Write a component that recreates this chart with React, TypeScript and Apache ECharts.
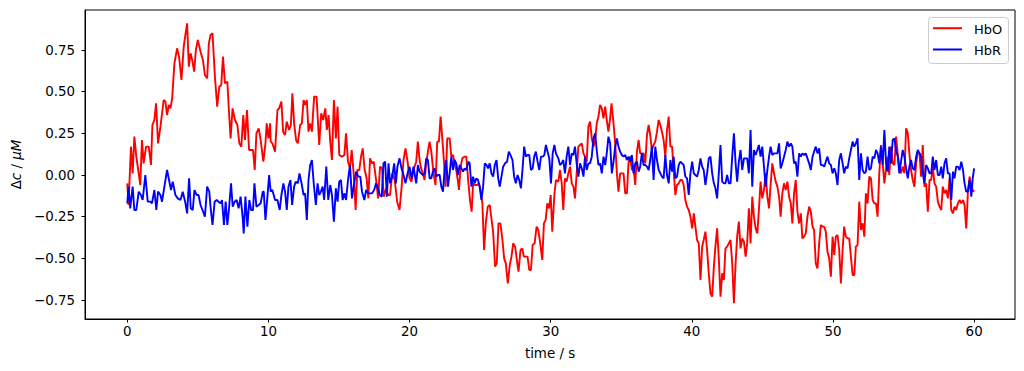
import React, { useEffect, useRef } from "react";
import * as echarts from "echarts";

// time (s), Δc (μM)
const hboData: [number, number][] = [
  [0, -0.05], [0.09, -0.18], [0.26, 0.17], [0.38, 0.01], [0.5, 0.23], [0.64, 0.11], [0.81, 0.01], [0.92, -0.06], [1.04, 0.21], [1.16, 0.07],
  [1.33, 0.17], [1.52, 0.17], [1.68, 0.06], [1.78, 0.3], [1.92, 0.33], [2.04, 0.43], [2.18, 0.19], [2.35, 0.29], [2.58, 0.45], [2.7, 0.44],
  [2.82, 0.36], [2.94, 0.42], [3.06, 0.4], [3.18, 0.46], [3.34, 0.67], [3.53, 0.76], [3.67, 0.71], [3.84, 0.57], [4.0, 0.77], [4.15, 0.86],
  [4.24, 0.91], [4.36, 0.65], [4.48, 0.73], [4.6, 0.69], [4.74, 0.62], [4.86, 0.75], [5.0, 0.81], [5.19, 0.74], [5.36, 0.69], [5.5, 0.6],
  [5.66, 0.58], [5.78, 0.79], [5.9, 0.84], [6.04, 0.85], [6.21, 0.59], [6.37, 0.41], [6.52, 0.53], [6.66, 0.54], [6.78, 0.71], [6.92, 0.55],
  [7.09, 0.56], [7.2, 0.39], [7.32, 0.22], [7.46, 0.4], [7.63, 0.33], [7.8, 0.3], [7.94, 0.19], [8.08, 0.17], [8.22, 0.36], [8.34, 0.21],
  [8.48, 0.39], [8.63, 0.15], [8.77, 0.15], [8.91, 0.15], [9.03, 0.03], [9.15, 0.25], [9.31, 0.28], [9.45, 0.21], [9.64, 0.08], [9.79, 0.19],
  [9.88, 0.31], [10.0, 0.22], [10.12, 0.31],
  [10.16, 0.2], [10.28, 0.19], [10.47, 0.14], [10.64, 0.39], [10.76, 0.4], [10.92, 0.44], [11.04, 0.26], [11.18, 0.24], [11.3, 0.32], [11.47, 0.27],
  [11.59, 0.3], [11.7, 0.49], [11.82, 0.31], [11.96, 0.21], [12.08, 0.19], [12.25, 0.3], [12.37, 0.31], [12.49, 0.45], [12.6, 0.42], [12.72, 0.45],
  [12.84, 0.26], [12.96, 0.31], [13.08, 0.26], [13.24, 0.47], [13.41, 0.47], [13.6, 0.18], [13.74, 0.37], [13.88, 0.33], [14.03, 0.4], [14.14, 0.27],
  [14.26, 0.36], [14.38, 0.2], [14.5, 0.09], [14.64, 0.45], [14.78, 0.22], [14.9, 0.41], [15.02, 0.12], [15.21, 0.11], [15.38, 0.12], [15.5, 0.25],
  [15.64, 0.08], [15.78, 0.04], [15.9, 0.15], [16.04, 0.01], [16.18, -0.21], [16.3, 0.03], [16.44, 0.03], [16.56, 0.11], [16.68, 0.16], [16.82, 0.03],
  [16.96, -0.02], [17.08, -0.14], [17.2, 0.1], [17.34, 0.07], [17.46, 0.08], [17.63, -0.03], [17.77, -0.14], [17.91, 0.05], [18.05, 0.04], [18.17, -0.13],
  [18.34, -0.08], [18.48, -0.12], [18.62, -0.12], [18.77, 0.01], [18.95, -0.03], [19.12, -0.16], [19.29, -0.21], [19.43, -0.08], [19.57, 0.09], [19.71, 0.16],
  [19.86, 0.08], [20.0, -0.02], [20.14, -0.04], [20.28, 0.03],
  [20.47, 0.08], [20.59, 0.2], [20.71, 0.09], [20.82, 0.04], [20.94, 0.01], [21.06, -0.03], [21.18, 0.07], [21.3, 0.14], [21.42, 0.2], [21.54, 0.14],
  [21.7, 0.01], [21.84, -0.06], [21.96, 0.2], [22.08, 0.2], [22.2, 0.35], [22.32, 0.22], [22.44, 0.08], [22.55, -0.07], [22.67, 0.22], [22.84, 0.22],
  [22.96, 0.11], [23.08, 0.12], [23.19, 0.07], [23.31, 0.03], [23.43, -0.04], [23.5, -0.09], [23.62, 0.05], [23.74, 0.1], [23.88, 0.11], [24.02, 0.11],
  [24.17, -0.05], [24.28, -0.15], [24.4, -0.22], [24.5, -0.05], [24.64, -0.06], [24.78, -0.06], [24.92, -0.05], [25.02, -0.09], [25.16, -0.17], [25.28, -0.45],
  [25.4, -0.29], [25.54, -0.19], [25.68, -0.18], [25.8, -0.26], [25.92, -0.34], [26.06, -0.55], [26.18, -0.53], [26.3, -0.29], [26.44, -0.29], [26.58, -0.39],
  [26.7, -0.5], [26.82, -0.53], [26.96, -0.65], [27.1, -0.54], [27.22, -0.49], [27.34, -0.41], [27.48, -0.43], [27.6, -0.51], [27.72, -0.58], [27.86, -0.45],
  [27.98, -0.44], [28.1, -0.49], [28.24, -0.49], [28.36, -0.49], [28.48, -0.57], [28.6, -0.57], [28.72, -0.42], [28.86, -0.41], [29.0, -0.31], [29.12, -0.33],
  [29.26, -0.41], [29.4, -0.51], [29.52, -0.29], [29.64, -0.27], [29.76, -0.17], [29.88, -0.2], [30.0, -0.12], [30.11, -0.34], [30.26, -0.12], [30.37, -0.03],
  [30.54, -0.04], [30.66, 0.03], [30.78, -0.05], [30.89, -0.21], [31.01, -0.02], [31.13, -0.04], [31.25, 0.01], [31.37, 0.05], [31.49, -0.05], [31.61, -0.07],
  [31.72, -0.14], [31.84, 0.01], [31.96, 0.17], [32.08, 0.18], [32.2, 0.19], [32.32, 0.13], [32.43, 0.11], [32.55, 0.08], [32.67, 0.29], [32.79, 0.32],
  [32.91, 0.22], [33.03, 0.17], [33.15, 0.21], [33.26, 0.31], [33.38, 0.35], [33.5, 0.42], [33.62, 0.4], [33.74, 0.34], [33.86, 0.41], [33.97, 0.33],
  [34.09, 0.26], [34.21, 0.34], [34.31, 0.43], [34.45, 0.31], [34.57, 0.19], [34.69, 0.01], [34.8, -0.1], [34.92, 0.01], [35.04, 0.01], [35.16, 0.01],
  [35.28, -0.11], [35.4, -0.11], [35.51, 0.07], [35.63, 0.11], [35.75, 0.03], [35.87, 0.04], [35.99, -0.06], [36.11, 0.14], [36.23, 0.21], [36.34, 0.13],
  [36.46, 0.13], [36.58, 0.13], [36.7, 0.07], [36.82, 0.24], [36.94, 0.3], [37.05, 0.24], [37.17, 0.15], [37.29, 0.18], [37.41, 0.2], [37.53, 0.26],
  [37.65, 0.33], [37.77, 0.3], [37.88, 0.26], [38.0, 0.21], [38.12, 0.11], [38.24, 0.27], [38.36, 0.35], [38.48, 0.17], [38.6, 0.17], [38.71, 0.03],
  [38.83, -0.12], [38.95, -0.06], [39.07, -0.05], [39.19, -0.03], [39.31, -0.03], [39.42, -0.06], [39.54, -0.15], [39.66, -0.19], [39.78, -0.21], [39.9, -0.25],
  [40.02, -0.32], [40.14, -0.23], [40.25, -0.31], [40.37, -0.39],
  [40.49, -0.41], [40.61, -0.63], [40.73, -0.43], [40.84, -0.39], [40.96, -0.34], [41.08, -0.45], [41.2, -0.59], [41.32, -0.71], [41.44, -0.73], [41.56, -0.55],
  [41.67, -0.43], [41.79, -0.32], [41.91, -0.5], [42.03, -0.73], [42.15, -0.59], [42.27, -0.63], [42.38, -0.44], [42.5, -0.43], [42.62, -0.41], [42.74, -0.39],
  [42.86, -0.53], [42.98, -0.77], [43.1, -0.53], [43.21, -0.37], [43.33, -0.28], [43.45, -0.44], [43.57, -0.38], [43.69, -0.4], [43.81, -0.49], [43.92, -0.41],
  [44.04, -0.2], [44.16, -0.41], [44.28, -0.13], [44.4, -0.25], [44.52, -0.32], [44.64, -0.35], [44.75, -0.21], [44.87, -0.04], [44.99, -0.14], [45.11, -0.09],
  [45.23, 0.01], [45.35, -0.13], [45.47, -0.2], [45.58, -0.06], [45.7, 0.07], [45.82, 0.01], [45.94, -0.04], [46.06, -0.07], [46.18, -0.13], [46.29, -0.25],
  [46.41, -0.11], [46.53, -0.05], [46.65, -0.09], [46.77, -0.04], [46.89, -0.13], [47.01, -0.17], [47.12, -0.29], [47.24, -0.11], [47.36, -0.03], [47.48, -0.22],
  [47.6, -0.29], [47.72, -0.23], [47.83, -0.38], [47.95, -0.37], [48.07, -0.35], [48.19, -0.25], [48.31, -0.19], [48.43, -0.22], [48.55, -0.31], [48.66, -0.33],
  [48.78, -0.53], [48.9, -0.56], [49.02, -0.41], [49.14, -0.3], [49.26, -0.31], [49.38, -0.31], [49.49, -0.34], [49.61, -0.46], [49.73, -0.5], [49.85, -0.61],
  [49.97, -0.37], [50.09, -0.48], [50.2, -0.37], [50.32, -0.36],
  [50.44, -0.45], [50.56, -0.65], [50.68, -0.45], [50.79, -0.31], [50.91, -0.37], [51.03, -0.38], [51.15, -0.38], [51.27, -0.49], [51.39, -0.6], [51.51, -0.6],
  [51.62, -0.43], [51.74, -0.42], [51.86, -0.16], [51.98, -0.33], [52.1, -0.29], [52.22, -0.37], [52.33, -0.11], [52.45, -0.17], [52.57, -0.01], [52.69, -0.02],
  [52.81, -0.15], [52.93, -0.17], [53.05, -0.17], [53.16, -0.25], [53.28, 0.01], [53.4, 0.18], [53.52, 0.07], [53.64, -0.05], [53.76, 0.04], [53.87, 0.11],
  [53.99, 0.0], [54.11, 0.17], [54.23, 0.07], [54.35, 0.06], [54.47, 0.23], [54.59, 0.12], [54.7, 0.05], [54.82, 0.01], [54.94, 0.05], [55.06, 0.01],
  [55.18, 0.28], [55.3, 0.25], [55.41, 0.13], [55.53, 0.03], [55.65, -0.03], [55.77, -0.07], [55.89, 0.07], [56.01, 0.14], [56.13, 0.13], [56.24, -0.01],
  [56.36, 0.18], [56.48, -0.07], [56.6, -0.05], [56.72, -0.22], [56.84, -0.03], [56.96, -0.03], [57.07, 0.05], [57.19, -0.05], [57.31, -0.07], [57.43, -0.16],
  [57.55, -0.19], [57.67, -0.21], [57.78, -0.07], [57.9, -0.11], [58.02, -0.09], [58.14, -0.14], [58.26, -0.02], [58.38, -0.21], [58.5, -0.23], [58.61, -0.19],
  [58.73, -0.21], [58.85, -0.17], [58.97, -0.15], [59.09, -0.17], [59.21, -0.15], [59.32, -0.18], [59.44, -0.32], [59.56, -0.1], [59.68, -0.01], [59.8, -0.06],
  [59.92, -0.1], [60.0, -0.09],
];

const hbrData: [number, number][] = [
  [0, -0.17], [0.09, -0.07], [0.21, -0.2], [0.38, -0.07], [0.5, -0.21], [0.64, -0.21], [0.81, -0.1], [0.97, -0.12], [1.09, -0.15], [1.28, 0.0],
  [1.45, -0.16], [1.64, -0.16], [1.75, -0.17], [1.92, -0.09], [2.06, -0.21], [2.18, -0.1], [2.35, -0.12], [2.46, -0.16], [2.63, -0.07], [2.82, 0.03],
  [2.96, -0.03], [3.1, -0.09], [3.22, -0.04], [3.41, -0.12], [3.58, -0.14], [3.77, -0.15], [3.93, -0.1], [4.1, -0.16], [4.24, -0.23], [4.38, -0.02],
  [4.5, -0.2], [4.64, -0.21], [4.76, -0.09], [4.91, -0.12], [5.05, -0.12], [5.19, -0.18], [5.33, -0.21], [5.5, -0.25], [5.66, -0.07], [5.81, -0.1],
  [5.92, -0.21], [6.04, -0.3], [6.19, -0.16], [6.33, -0.15], [6.47, -0.16], [6.61, -0.17], [6.71, -0.15], [6.85, -0.3], [6.97, -0.16], [7.09, -0.3],
  [7.2, -0.21], [7.35, -0.05], [7.47, -0.19], [7.61, -0.16], [7.75, -0.15], [7.89, -0.2], [8.03, -0.13], [8.18, -0.26], [8.25, -0.35], [8.37, -0.13],
  [8.51, -0.31], [8.65, -0.15], [8.77, -0.21], [8.91, -0.21], [9.01, -0.05], [9.15, -0.19], [9.31, -0.18], [9.45, -0.17], [9.6, -0.1], [9.67, -0.1],
  [9.79, -0.27], [9.93, -0.13], [10.05, 0.0],
  [10.16, -0.1], [10.28, -0.09], [10.47, -0.15], [10.64, -0.15], [10.8, -0.21], [10.92, -0.12], [11.06, -0.05], [11.18, -0.1], [11.3, -0.21], [11.42, -0.07],
  [11.56, -0.03], [11.68, -0.18], [11.82, -0.07], [11.94, -0.04], [12.08, -0.05], [12.2, 0.01], [12.37, -0.06], [12.49, -0.12], [12.6, -0.11], [12.72, -0.27],
  [12.84, -0.03], [12.96, 0.06], [13.08, 0.09], [13.22, -0.06], [13.36, -0.18], [13.48, -0.05], [13.6, -0.12], [13.72, -0.1], [13.84, -0.07], [13.95, -0.15],
  [14.1, 0.05], [14.24, -0.15], [14.38, -0.06], [14.5, -0.12], [14.64, -0.28], [14.78, -0.08], [14.9, -0.16], [15.02, -0.04], [15.14, -0.03], [15.26, -0.15],
  [15.38, -0.11], [15.5, -0.15], [15.64, -0.03], [15.78, 0.06], [15.92, -0.14], [16.04, -0.07], [16.21, 0.02], [16.37, -0.01], [16.51, -0.01], [16.63, -0.1],
  [16.8, -0.15], [16.92, -0.09], [17.06, -0.11], [17.2, -0.11], [17.34, -0.11], [17.49, -0.09], [17.63, -0.05], [17.77, -0.08], [17.89, -0.12], [18.03, -0.13],
  [18.15, 0.07], [18.27, 0.08], [18.39, -0.13], [18.51, 0.07], [18.62, -0.05], [18.77, -0.01], [18.91, 0.07], [19.03, -0.05], [19.14, 0.05], [19.29, 0.1],
  [19.43, 0.04], [19.57, 0.0], [19.71, -0.05], [19.86, 0.01], [20.0, 0.05], [20.14, -0.02], [20.28, 0.05],
  [20.47, -0.05], [20.59, 0.06], [20.71, 0.02], [20.82, 0.01], [20.94, 0.0], [21.06, 0.01], [21.18, 0.1], [21.3, 0.09], [21.42, -0.02], [21.54, -0.02],
  [21.65, 0.02], [21.77, 0.04], [21.89, -0.01], [22.01, 0.0], [22.13, 0.0], [22.25, -0.07], [22.37, -0.1], [22.48, 0.03], [22.6, 0.09], [22.72, -0.07],
  [22.84, 0.01], [22.96, 0.11], [23.08, 0.03], [23.19, 0.09], [23.31, 0.07], [23.43, 0.0], [23.55, 0.06], [23.67, 0.04], [23.79, 0.02], [23.9, 0.04],
  [24.02, 0.03], [24.17, 0.08], [24.26, 0.07], [24.38, -0.07], [24.5, -0.01], [24.62, -0.05], [24.73, -0.02], [24.85, -0.03], [24.97, -0.07], [25.09, -0.15],
  [25.21, -0.07], [25.33, 0.07], [25.45, 0.06], [25.56, 0.04], [25.68, 0.07], [25.8, 0.01], [25.92, -0.01], [26.04, 0.06], [26.16, 0.09], [26.28, -0.02],
  [26.39, -0.07], [26.51, -0.01], [26.63, 0.05], [26.77, 0.07], [26.91, 0.08], [27.03, 0.14], [27.15, 0.12], [27.29, 0.09], [27.41, -0.01], [27.53, -0.05],
  [27.65, 0.0], [27.77, -0.03], [27.89, -0.08], [28.0, 0.03], [28.12, 0.17], [28.24, 0.11], [28.36, 0.12], [28.48, 0.12], [28.6, 0.03], [28.72, 0.04],
  [28.83, 0.11], [28.95, 0.14], [29.07, 0.08], [29.19, 0.03], [29.31, 0.11], [29.43, 0.11], [29.55, 0.12], [29.66, 0.18], [29.78, 0.14], [29.9, 0.1],
  [30.02, -0.05], [30.14, 0.13], [30.26, 0.18], [30.37, 0.13],
  [30.54, 0.1], [30.66, 0.06], [30.78, 0.07], [30.89, 0.09], [31.01, 0.01], [31.13, 0.11], [31.25, 0.17], [31.37, 0.06], [31.49, 0.13], [31.61, 0.12],
  [31.72, 0.17], [31.84, 0.07], [31.96, -0.01], [32.08, 0.07], [32.2, 0.04], [32.32, -0.01], [32.43, 0.11], [32.55, 0.03], [32.67, 0.07], [32.79, 0.07],
  [32.91, 0.11], [33.03, 0.22], [33.15, 0.25], [33.26, 0.15], [33.38, 0.06], [33.5, 0.07], [33.62, 0.01], [33.74, 0.11], [33.86, 0.06], [33.97, 0.13],
  [34.09, 0.23], [34.21, 0.19], [34.33, 0.01], [34.45, 0.08], [34.57, 0.17], [34.69, 0.22], [34.8, 0.17], [34.92, 0.14], [35.04, 0.12], [35.16, 0.11],
  [35.28, 0.12], [35.4, 0.09], [35.51, 0.11], [35.63, 0.08], [35.75, 0.12], [35.87, 0.01], [35.99, 0.07], [36.11, 0.08], [36.23, 0.02], [36.34, 0.05],
  [36.46, 0.13], [36.58, 0.06], [36.7, 0.06], [36.82, 0.05], [36.94, 0.03], [37.05, 0.09], [37.17, 0.17], [37.29, -0.03], [37.41, 0.17], [37.53, 0.09],
  [37.65, 0.03], [37.77, 0.01], [37.88, -0.01], [38.0, -0.02], [38.12, 0.12], [38.24, 0.0], [38.36, -0.05], [38.48, 0.09], [38.6, 0.02], [38.71, 0.11],
  [38.83, -0.02], [38.95, -0.01], [39.07, 0.06], [39.19, 0.08], [39.31, 0.07], [39.42, 0.06], [39.54, -0.01], [39.66, -0.02], [39.78, -0.12], [39.9, 0.01],
  [40.02, 0.08], [40.14, 0.01], [40.25, 0.0], [40.37, -0.01],
  [40.49, 0.03], [40.61, 0.1], [40.73, 0.05], [40.84, 0.03], [40.96, -0.06], [41.08, 0.01], [41.2, 0.1], [41.32, 0.11], [41.44, 0.01], [41.56, -0.05],
  [41.67, -0.08], [41.79, -0.14], [41.91, 0.01], [42.03, 0.18], [42.15, -0.04], [42.27, -0.05], [42.38, -0.05], [42.5, 0.0], [42.62, -0.05], [42.74, -0.05],
  [42.86, 0.11], [42.98, 0.25], [43.1, 0.07], [43.21, -0.04], [43.33, 0.08], [43.45, 0.15], [43.57, 0.03], [43.69, 0.1], [43.81, 0.1], [43.92, 0.1],
  [44.04, 0.01], [44.16, 0.27], [44.28, -0.07], [44.4, 0.15], [44.52, 0.12], [44.64, 0.15], [44.75, 0.18], [44.87, 0.11], [44.99, 0.17], [45.11, 0.05],
  [45.23, -0.07], [45.35, 0.03], [45.47, 0.11], [45.58, 0.17], [45.7, 0.12], [45.82, 0.13], [45.94, 0.13], [46.06, 0.13], [46.18, 0.19], [46.29, 0.04],
  [46.41, 0.07], [46.53, 0.11], [46.65, 0.15], [46.77, 0.2], [46.89, 0.17], [47.01, 0.19], [47.12, 0.17], [47.24, 0.07], [47.36, 0.08], [47.48, -0.01],
  [47.6, 0.13], [47.72, 0.11], [47.83, 0.13], [47.95, 0.12], [48.07, 0.13], [48.19, 0.1], [48.31, 0.07], [48.43, 0.03], [48.55, 0.11], [48.66, 0.14],
  [48.78, 0.17], [48.9, 0.13], [49.02, 0.16], [49.14, 0.06], [49.26, 0.06], [49.38, 0.05], [49.49, 0.08], [49.61, 0.11], [49.73, 0.07], [49.85, 0.06],
  [49.97, 0.01], [50.09, 0.04], [50.2, 0.01], [50.32, -0.06],
  [50.44, 0.09], [50.56, 0.13], [50.68, 0.07], [50.79, 0.01], [50.91, 0.05], [51.03, 0.04], [51.15, 0.1], [51.27, 0.15], [51.39, 0.2], [51.51, 0.17],
  [51.62, 0.19], [51.74, 0.22], [51.86, -0.03], [51.98, 0.13], [52.1, 0.03], [52.22, 0.01], [52.33, 0.02], [52.45, 0.11], [52.57, 0.03], [52.69, 0.04],
  [52.81, 0.11], [52.93, 0.1], [53.05, 0.15], [53.16, 0.13], [53.28, 0.07], [53.4, 0.17], [53.52, 0.06], [53.64, 0.27], [53.76, 0.07], [53.87, 0.02],
  [53.99, 0.17], [54.11, 0.07], [54.23, 0.21], [54.35, 0.22], [54.47, 0.15], [54.59, 0.11], [54.7, 0.01], [54.82, 0.08], [54.94, 0.15], [55.06, 0.11],
  [55.18, 0.04], [55.3, -0.02], [55.41, 0.05], [55.53, 0.09], [55.65, 0.04], [55.77, 0.03], [55.89, 0.11], [56.01, 0.15], [56.13, 0.13], [56.24, 0.11],
  [56.36, 0.01], [56.48, -0.05], [56.6, 0.06], [56.72, 0.04], [56.84, 0.01], [56.96, 0.01], [57.07, 0.11], [57.19, 0.03], [57.31, 0.09], [57.43, 0.0],
  [57.55, 0.0], [57.67, 0.05], [57.78, -0.02], [57.9, 0.07], [58.02, 0.1], [58.14, 0.01], [58.26, 0.01], [58.38, -0.15], [58.5, 0.02], [58.61, -0.02],
  [58.73, 0.05], [58.85, 0.05], [58.97, 0.03], [59.09, 0.08], [59.21, 0.03], [59.32, -0.05], [59.44, -0.1], [59.56, -0.1], [59.68, -0.03], [59.8, -0.13],
  [59.9, -0.02], [59.95, 0.01], [60.0, 0.04],
];

const seriesNames = ["HbO", "HbR"];
const seriesColors = ["#ff0000", "#0000ff"];
const xTicks = [0, 10, 20, 30, 40, 50, 60];
const yTicks = [-0.75, -0.5, -0.25, 0, 0.25, 0.5, 0.75];
const xRange = [-2.995, 62.895];
const yRange = [-0.864, 0.99];

const FONT = "DejaVu Sans";
const FS = 13.4;
const LEGEND_FS = 13;

export default function App() {
  const ref = useRef<HTMLDivElement>(null);
  useEffect(() => {
    if (!ref.current) return;
    const chart = echarts.init(ref.current, undefined, { renderer: "svg" });
    const fmtY = (v: number) => (v < 0 ? "\u2212" + Math.abs(v).toFixed(2) : v.toFixed(2));

    // legend drawn as graphic (matplotlib style, upper right)
    const legendLeft = 928;
    const legendTop = 17;
    const rowYs = [10.7, 32];
    const legendChildren: any[] = [
      {
        type: "rect",
        shape: { x: 0, y: 0, width: 80, height: 46, r: 3 },
        style: { fill: "#ffffff", stroke: "#cccccc", lineWidth: 1 },
      },
    ];
    seriesNames.forEach((name, i) => {
      legendChildren.push({
        type: "line",
        shape: { x1: 4.5, y1: rowYs[i], x2: 33.5, y2: rowYs[i] },
        style: { stroke: seriesColors[i], lineWidth: 2 },
      });
      legendChildren.push({
        type: "text",
        x: 45.5,
        y: rowYs[i] + 1,
        style: {
          text: name, fill: "#000",
          font: `${LEGEND_FS}px "${FONT}"`,
          fontFamily: FONT, fontSize: LEGEND_FS,
          align: "left", verticalAlign: "middle",
        },
      });
    });

    chart.setOption({
      animation: false,
      backgroundColor: "#ffffff",
      textStyle: { fontFamily: FONT },
      grid: {
        left: 85, right: 9, top: 10, bottom: 52,
        show: true, borderColor: "#000", borderWidth: 1, backgroundColor: "transparent",
      },
      graphic: [
        { type: "group", left: legendLeft, top: legendTop, z: 100, children: legendChildren },
      ],
      xAxis: {
        type: "value",
        min: xRange[0],
        max: xRange[1],
        name: "time / s",
        nameLocation: "middle",
        nameGap: 28,
        nameTextStyle: { fontFamily: FONT, fontSize: FS, color: "#000" },
        axisLine: { show: true, onZero: false, lineStyle: { color: "#000", width: 1 } },
        axisTick: { show: true, customValues: xTicks, length: 3.5, lineStyle: { color: "#000", width: 1 } },
        axisLabel: { customValues: xTicks, fontFamily: FONT, fontSize: FS, color: "#000", margin: 6 },
        splitLine: { show: false },
      },
      yAxis: {
        type: "value",
        min: yRange[0],
        max: yRange[1],
        name: "{d|Δ}{i|c} / {i|μM}",
        nameLocation: "middle",
        nameGap: 62,
        nameRotate: 90,
        nameTextStyle: {
          fontFamily: FONT, fontSize: FS, color: "#000",
          rich: {
            d: { fontFamily: FONT, fontSize: FS, color: "#000" },
            i: { fontFamily: FONT, fontSize: FS, color: "#000", fontStyle: "italic" },
          },
        },
        axisLine: { show: true, onZero: false, lineStyle: { color: "#000", width: 1 } },
        axisTick: { show: true, customValues: yTicks, length: 3.5, lineStyle: { color: "#000", width: 1 } },
        axisLabel: { customValues: yTicks, fontFamily: FONT, fontSize: FS, color: "#000", margin: 10, formatter: fmtY },
        splitLine: { show: false },
      },
      series: [
        {
          name: seriesNames[0], type: "line", data: hboData, showSymbol: false, symbol: "none",
          lineStyle: { color: seriesColors[0], width: 1.9 }, itemStyle: { color: seriesColors[0] },
          z: 2,
        },
        {
          name: seriesNames[1], type: "line", data: hbrData, showSymbol: false, symbol: "none",
          lineStyle: { color: seriesColors[1], width: 1.9 }, itemStyle: { color: seriesColors[1] },
          z: 3,
        },
      ],
    });
    return () => chart.dispose();
  }, []);
  return <div ref={ref} style={{ position: "fixed", left: 0, top: 0, width: 1024, height: 371 }} />;
}
